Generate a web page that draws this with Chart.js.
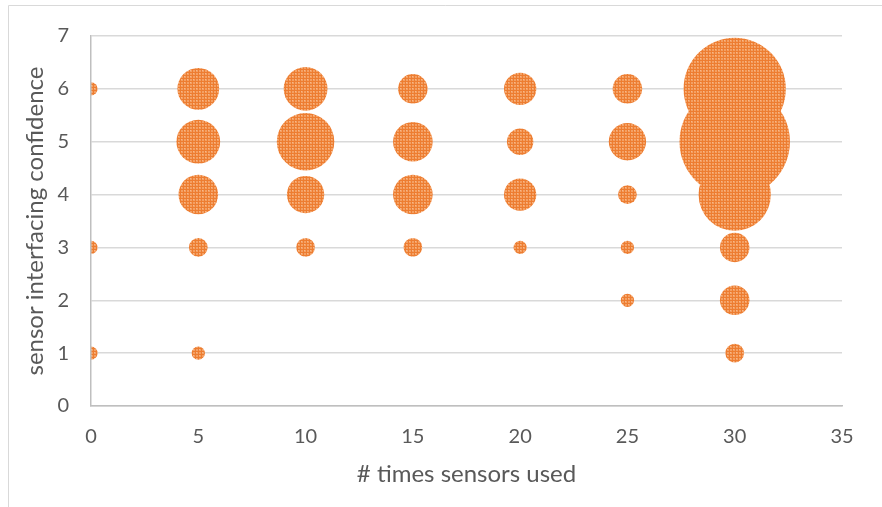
<!DOCTYPE html>
<html>
<head>
<meta charset="utf-8">
<script src="https://cdn.jsdelivr.net/npm/chart.js@4/dist/chart.umd.min.js"></script>
<style>
  html, body { margin: 0; padding: 0; background: #ffffff; }
  #wrap { position: relative; width: 882px; height: 507px; }
  canvas { display: block; }
</style>
</head>
<body>
<div id="wrap"><canvas id="c" width="882" height="507"></canvas></div>
<script>
// Data
const timesUsed  = [0, 0, 0,   5, 5, 5, 5, 5,   10, 10, 10, 10,   15, 15, 15, 15,   20, 20, 20, 20,   25, 25, 25, 25, 25,   30, 30, 30, 30, 30, 30];
const confidence = [6, 3, 1,   6, 5, 4, 3, 1,   6,  5,  4,  3,    6,  5,  4,  3,    6,  5,  4,  3,    6,  5,  4,  3,  2,    6,  5,  4,  3,  2,  1];
const counts     = [1, 1, 1,  10,11, 9, 2, 1,  11, 19,  8,  2,    5,  9,  9,  2,    6,  4,  6,  1,    5,  8,  2,  1,  1,   60, 70, 30,  5,  5,  2];
const xTicks = [0, 5, 10, 15, 20, 25, 30, 35];
const yTicks = [0, 1, 2, 3, 4, 5, 6, 7];

const points = timesUsed.map((x, i) => ({ x: x, y: confidence[i], count: counts[i] }));

// textured orange fill similar to the reference
function makePattern() {
  const t = document.createElement('canvas');
  t.width = 6; t.height = 6;
  const g = t.getContext('2d');
  g.fillStyle = '#F4A063';
  g.fillRect(0, 0, 6, 6);
  g.fillStyle = '#ED7D31';
  g.fillRect(0, 0, 1, 6);
  g.fillRect(3, 0, 1, 6);
  g.fillRect(0, 0, 6, 1);
  g.fillRect(0, 3, 6, 1);
  g.fillStyle = '#F7B88A';
  g.fillRect(1, 1, 1, 1);
  g.fillRect(4, 4, 1, 1);
  return g.createPattern(t, 'repeat');
}
const fill = makePattern();

const frame = {
  id: 'frame',
  beforeDraw(chart) {
    const ctx = chart.ctx;
    ctx.save();
    ctx.strokeStyle = '#d9d9d9';
    ctx.lineWidth = 1;
    ctx.beginPath();
    ctx.moveTo(8.5, 507);
    ctx.lineTo(8.5, 5.5);
    ctx.lineTo(882, 5.5);
    ctx.stroke();
    ctx.restore();
  }
};

const FONT = "Lato, 'Open Sans', sans-serif";

new Chart(document.getElementById('c'), {
  type: 'bubble',
  data: {
    datasets: [{
      data: points,
      backgroundColor: fill,
      borderWidth: 0,
      hoverBorderWidth: 0,
      radius: ctx => {
        const p = ctx.raw;
        return p ? 6.6 * Math.sqrt(p.count) : 0;
      },
      clip: 0
    }]
  },
  options: {
    responsive: false,
    animation: false,
    devicePixelRatio: 1,
    layout: { autoPadding: false, padding: { top: 36, right: 40, left: 0, bottom: 0 } },
    plugins: {
      legend: { display: false },
      tooltip: { enabled: false }
    },
    scales: {
      x: {
        type: 'linear',
        min: 0, max: 35,
        afterBuildTicks: s => { s.ticks = xTicks.map(v => ({ value: v })); },
        afterFit: s => { s.height = 101; },
        grid: { display: false, drawTicks: false },
        border: { display: true, color: '#bfbfbf', width: 1.5, z: 1 },
        ticks: { color: '#595959', font: { family: FONT, size: 20 }, padding: 19, maxRotation: 0 },
        title: { display: true, text: '# times sensors used', color: '#595959',
                 font: { family: FONT, size: 24 }, padding: { top: 0, bottom: 18 } }
      },
      y: {
        type: 'linear',
        min: 0, max: 7,
        afterBuildTicks: s => { s.ticks = yTicks.map(v => ({ value: v })); },
        afterFit: s => { s.width = 91; },
        grid: { display: true, color: '#d9d9d9', lineWidth: 1.5, drawTicks: false },
        border: { display: true, color: '#bfbfbf', width: 1.5, z: 1 },
        ticks: { color: '#595959', font: { family: FONT, size: 20 }, padding: 22 },
        title: { display: true, text: 'sensor interfacing confidence', color: '#595959',
                 font: { family: FONT, size: 24 }, padding: { top: 21, bottom: 0 } }
      }
    }
  },
  plugins: [frame]
});
</script>
</body>
</html>
